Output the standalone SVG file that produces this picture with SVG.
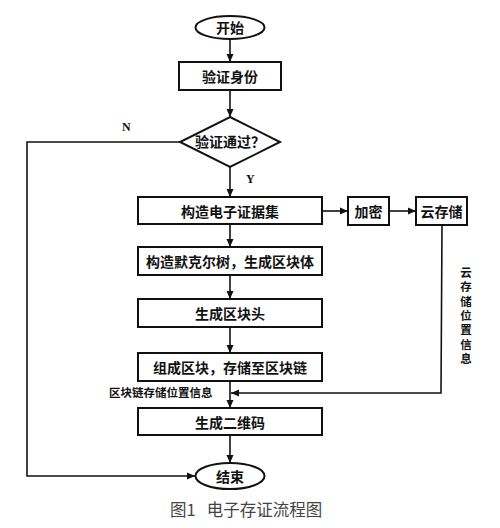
<svg xmlns="http://www.w3.org/2000/svg" width="500" height="528" viewBox="0 0 500 528">
<style>
.box{fill:#fff;stroke:#111;stroke-width:2}
.t{font-family:"Noto Sans CJK SC","Noto Sans",sans-serif;font-size:14px;font-weight:700;fill:#111;text-anchor:middle;dominant-baseline:central}
.s{font-family:"Noto Sans CJK SC",sans-serif;font-size:11.5px;font-weight:700;fill:#111}
.lbl{font-family:"Liberation Serif",serif;font-size:12px;font-weight:700;fill:#111}
.ln{fill:none;stroke:#111;stroke-width:1.6}
</style>
<defs>
<marker id="ah" viewBox="0 0 8 8" refX="8" refY="4" markerWidth="8" markerHeight="8" markerUnits="userSpaceOnUse" orient="auto">
<path d="M0,0.5 L8,4 L0,7.5 Z" fill="#111"/>
</marker>
</defs>
<rect width="500" height="528" fill="#fff"/>
<g id="connectors">
<line class="ln" x1="230" y1="39" x2="230" y2="62" marker-end="url(#ah)"/>
<line class="ln" x1="230" y1="90" x2="230" y2="117" marker-end="url(#ah)"/>
<line class="ln" x1="230" y1="167" x2="230" y2="197" marker-end="url(#ah)"/>
<polyline class="ln" points="180,142 27,142 27,476 195,476" marker-end="url(#ah)"/>
<line class="ln" x1="230" y1="224" x2="230" y2="247" marker-end="url(#ah)"/>
<line class="ln" x1="230" y1="275" x2="230" y2="299" marker-end="url(#ah)"/>
<line class="ln" x1="230" y1="327" x2="230" y2="353" marker-end="url(#ah)"/>
<line class="ln" x1="230" y1="381" x2="230" y2="408" marker-end="url(#ah)"/>
<line class="ln" x1="230" y1="435" x2="230" y2="463" marker-end="url(#ah)"/>
<line class="ln" x1="322" y1="211" x2="348" y2="211" marker-end="url(#ah)"/>
<line class="ln" x1="389" y1="211" x2="416" y2="211" marker-end="url(#ah)"/>
<polyline class="ln" points="442,225 441,393 231,393" marker-end="url(#ah)"/>
<text class="lbl" x="122" y="131">N</text>
<text class="lbl" x="246" y="183">Y</text>
<text class="s" x="109" y="397">区块链存储位置信息</text>
<text class="s" x="466" y="267" writing-mode="tb" letter-spacing="2.8">云存储位置信息</text>
</g>
<g id="start"><ellipse class="box" cx="230" cy="27.5" rx="34.5" ry="11.5"/><text class="t" x="230" y="27">开始</text></g>
<g id="verify"><rect class="box" x="179" y="62" width="102" height="28"/><text class="t" x="230" y="76">验证身份</text></g>
<g id="decision"><polygon class="box" points="230,117 280,142 230,167 180,142"/><text class="t" x="230" y="141">验证通过？</text></g>
<g id="evidence"><rect class="box" x="138" y="197" width="184" height="27"/><text class="t" x="230" y="210.5">构造电子证据集</text></g>
<g id="encrypt"><rect class="box" x="348" y="197" width="41" height="28"/><text class="t" x="368.5" y="211">加密</text></g>
<g id="cloud"><rect class="box" x="416" y="197" width="51" height="28"/><text class="t" x="441.5" y="211">云存储</text></g>
<g id="merkle"><rect class="box" x="138" y="247" width="184" height="28"/><text class="t" x="230" y="261">构造默克尔树，生成区块体</text></g>
<g id="header"><rect class="box" x="138" y="299" width="184" height="28"/><text class="t" x="230" y="313">生成区块头</text></g>
<g id="block"><rect class="box" x="138" y="353" width="184" height="28"/><text class="t" x="230" y="367">组成区块，存储至区块链</text></g>
<g id="qr"><rect class="box" x="138" y="408" width="184" height="27"/><text class="t" x="230" y="421.5">生成二维码</text></g>
<g id="end"><ellipse class="box" cx="230" cy="476" rx="34.5" ry="13"/><text class="t" x="230" y="476">结束</text></g>
<text x="170" y="516" font-family="'Noto Sans CJK SC',sans-serif" font-size="16.5" fill="#444" xml:space="preserve">图1   电子存证流程图</text>
</svg>
